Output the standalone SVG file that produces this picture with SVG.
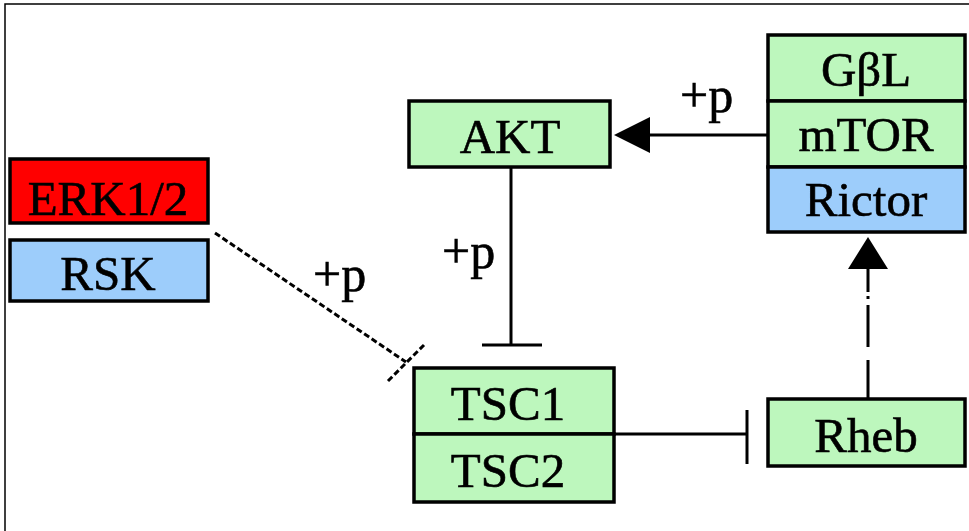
<svg xmlns="http://www.w3.org/2000/svg" width="969" height="531" viewBox="0 0 969 531">
<style>
.box{stroke:#000;stroke-width:3.5}
.g{fill:#bdf7bd}
.b{fill:#9dcdfb}
.r{fill:#ff0000}
.t{font-family:"Liberation Serif","Times New Roman",serif;font-size:49px;fill:#000;stroke:#000;stroke-width:0.6;text-anchor:middle}
.lbl{font-family:"Liberation Serif","Times New Roman",serif;font-size:50px;fill:#000;stroke:#000;stroke-width:0.6}
.ln{stroke:#000;stroke-width:3;fill:none}
</style>
<rect x="0" y="0" width="969" height="531" fill="#fff"/>
<path d="M5,531 V4 H969" fill="none" stroke="#000" stroke-width="1.5"/>

<g id="connectors">
  <!-- mTOR -> AKT -->
  <line class="ln" x1="650" y1="135" x2="767" y2="135"/>
  <polygon points="614,135 650,117 650,153" fill="#000"/>
  <!-- AKT -| TSC -->
  <line class="ln" x1="511" y1="167" x2="511" y2="345"/>
  <line class="ln" x1="482" y1="345" x2="542" y2="345"/>
  <!-- ERK/RSK -| TSC (dotted) -->
  <line x1="215" y1="233" x2="406" y2="362" stroke="#000" stroke-width="3" stroke-dasharray="6,3"/>
  <line x1="388" y1="381" x2="424" y2="345" stroke="#000" stroke-width="3" stroke-dasharray="6,3"/>
  <!-- TSC -| Rheb -->
  <line class="ln" x1="615" y1="434" x2="747" y2="434"/>
  <line class="ln" x1="747" y1="410" x2="747" y2="464"/>
  <!-- Rheb -> Rictor (dash-dot) -->
  <line x1="868" y1="398" x2="868" y2="266" stroke="#000" stroke-width="3" stroke-dasharray="38,13,42,6,3,4,40"/>
  <polygon points="868,237 848,269 888,269" fill="#000"/>
  <text class="lbl" x="680" y="112">+p</text>
  <text class="lbl" x="442" y="268">+p</text>
  <text class="lbl" x="313" y="291">+p</text>
</g>

<g id="erk">
  <rect class="box r" x="10" y="159" width="198" height="64"/>
  <text class="t" x="108" y="215">ERK1/2</text>
</g>
<g id="rsk">
  <rect class="box b" x="10" y="240" width="198" height="61"/>
  <text class="t" x="108" y="290">RSK</text>
</g>
<g id="akt">
  <rect class="box g" x="409" y="101" width="201" height="66"/>
  <text class="t" x="510" y="153">AKT</text>
</g>
<g id="mtorc2">
  <rect class="box g" x="768" y="35" width="197" height="66"/>
  <text class="t" x="866" y="86">GβL</text>
  <rect class="box g" x="768" y="101" width="197" height="66"/>
  <text class="t" x="866" y="151">mTOR</text>
  <rect class="box b" x="768" y="167" width="197" height="65"/>
  <text class="t" x="866" y="216">Rictor</text>
</g>
<g id="tsc">
  <rect class="box g" x="414" y="368" width="200" height="66"/>
  <text class="t" x="508" y="420">TSC1</text>
  <rect class="box g" x="414" y="434" width="200" height="68"/>
  <text class="t" x="508" y="487">TSC2</text>
</g>
<g id="rheb">
  <rect class="box g" x="768" y="399" width="197" height="67"/>
  <text class="t" x="866" y="452">Rheb</text>
</g>
</svg>
